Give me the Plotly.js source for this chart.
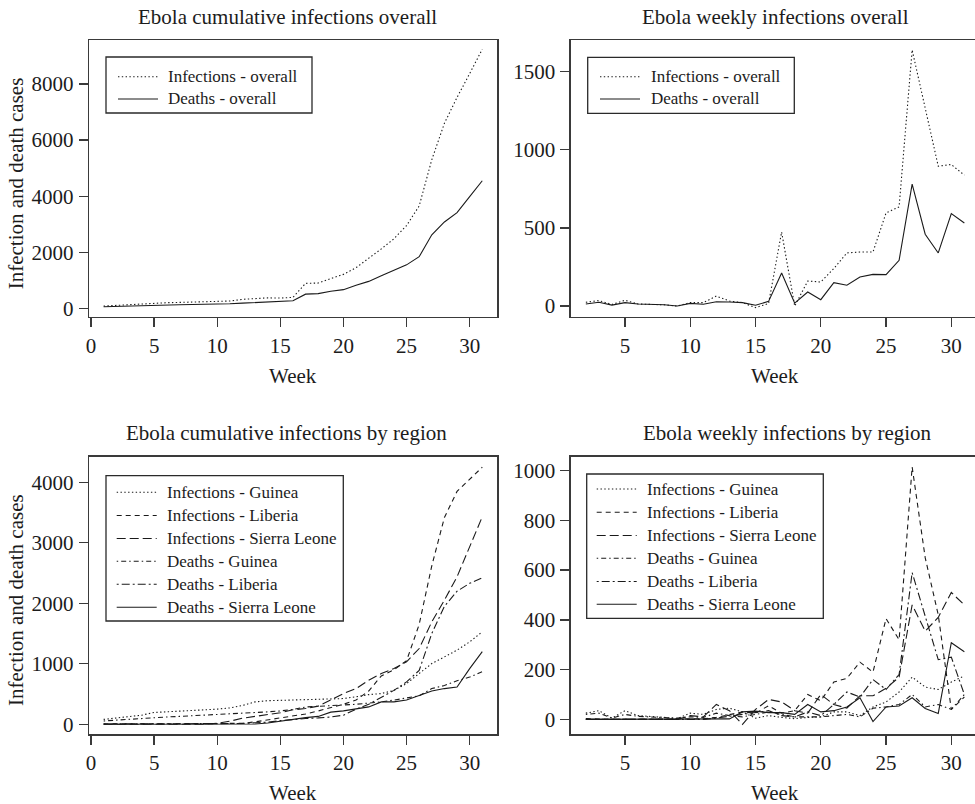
<!DOCTYPE html>
<html>
<head>
<meta charset="utf-8">
<script src="https://cdn.plot.ly/plotly-3.0.1.min.js"></script>
<style>
html, body { margin: 0; padding: 0; overflow: hidden; background: #fff; }
#chart { width: 990px; height: 804px; }
</style>
</head>
<body>
<div id="chart"></div>
<script>
// ---------- data ----------
const weeksCum = [1,2,3,4,5,6,7,8,9,10,11,12,13,14,15,16,17,18,19,20,21,22,23,24,25,26,27,28,29,30,31];
const weeksWeekly = [2,3,4,5,6,7,8,9,10,11,12,13,14,15,16,17,18,19,20,21,22,23,24,25,26,27,28,29,30,31];

// cumulative overall
const infectionsOverallCum = [80,105,140,150,185,200,210,218,220,240,260,320,350,372,365,390,890,900,1060,1210,1450,1780,2120,2480,2950,3650,5300,6600,7520,8370,9240];
const deathsOverallCum = [55,70,90,95,110,120,128,135,136,150,160,185,210,230,235,268,505,525,610,665,820,960,1160,1360,1550,1840,2620,3080,3410,3980,4550];

// weekly overall
const infectionsOverallWeekly = [24,35,10,37,13,10,8,0,22,22,64,32,22,-10,16,474,0,160,154,240,340,346,346,596,635,1639,1260,895,906,838];
const deathsOverallWeekly = [13,24,6,22,13,10,8,0,17,12,28,26,22,5,30,212,19,90,41,150,133,186,203,201,293,780,460,340,592,532];

// cumulative by region
const infGuineaCum = [80,100,130,150,195,205,215,225,232,250,270,310,370,390,395,400,405,408,412,425,455,490,508,560,673,839,1004,1114,1225,1362,1528];
const infLiberiaCum = [8,10,10,10,10,10,10,10,10,10,12,16,40,70,100,130,170,220,270,330,400,550,800,900,1050,1650,2620,3420,3850,4050,4250];
const infSierraLeoneCum = [0,0,0,0,0,0,0,0,0,16,50,100,130,160,190,240,260,300,400,508,590,728,839,921,1032,1252,1693,2052,2438,2935,3431];
const deathsGuineaCum = [55,70,85,95,110,120,130,140,145,155,165,180,190,205,220,245,285,300,310,320,330,345,370,400,430,470,590,640,720,780,870];
const deathsLiberiaCum = [5,6,6,6,6,6,6,6,6,6,6,12,25,35,60,80,95,105,120,150,250,330,450,560,700,890,1500,1950,2200,2330,2420];
const deathsSierraLeoneCum = [0,0,0,0,0,0,0,0,0,0,0,2,5,20,50,85,110,130,200,221,250,287,370,370,400,480,550,590,615,920,1200];

// weekly by region
const infGuineaWeekly = [25,35,5,35,15,10,8,3,25,20,40,45,30,5,15,8,3,8,10,30,30,15,50,70,110,170,130,120,150,175];
const infLiberiaWeekly = [3,0,0,0,0,0,0,0,0,2,8,20,30,25,55,25,35,100,75,150,165,230,190,405,320,1015,650,420,40,90];
const infSierraLeoneWeekly = [0,0,0,0,0,0,0,0,15,10,60,35,-20,40,80,70,35,25,100,60,45,95,95,125,170,460,355,410,510,460];
const deathsGuineaWeekly = [20,25,5,20,12,10,8,5,10,8,25,15,10,20,30,20,10,10,10,15,20,10,45,50,60,100,50,60,40,100];
const deathsLiberiaWeekly = [0,0,0,0,0,0,0,0,0,0,5,12,20,25,35,15,10,30,15,60,110,90,160,120,180,590,420,240,250,100];
const deathsSierraLeoneWeekly = [0,0,0,0,0,0,0,0,0,0,0,2,30,33,27,27,20,60,30,35,50,87,-9,50,54,87,44,24,308,272];

const overallNames = ["Infections - overall", "Deaths - overall"];
const regionNames = ["Infections - Guinea", "Infections - Liberia", "Infections - Sierra Leone",
                     "Deaths - Guinea", "Deaths - Liberia", "Deaths - Sierra Leone"];
const panelTitles = ["Ebola cumulative infections overall", "Ebola weekly infections overall",
                     "Ebola cumulative infections by region", "Ebola weekly infections by region"];
const xTitle = "Week";
const yTitle = "Infection and death cases";

// ---------- styling ----------
const W = 990, H = 804;
const px = x => x / W;
const py = y => 1 - y / H;
const FONT = "Liberation Serif, Times New Roman, serif";
const INK = "#1c1c1c";
const LINE = "#1a1a1a";
const dashes = {
  solid: "solid",
  dotted: "1.4px,2.4px",
  dashed: "5px,4px",
  longdash: "9px,4px",
  dotdash: "1.5px,3px,5px,3px",
  twodash: "2px,3px,8px,3px"
};
const overallDash = [dashes.dotted, dashes.solid];
const regionDash = [dashes.dotted, dashes.dashed, dashes.longdash, dashes.dotdash, dashes.twodash, dashes.solid];

function tr(x, y, name, dash, xa, ya) {
  return { type: "scatter", mode: "lines", x: x, y: y, name: name,
           xaxis: xa, yaxis: ya, showlegend: false,
           line: { color: LINE, width: 1.1, dash: dash }, hoverinfo: "skip" };
}

const data = [
  tr(weeksCum, infectionsOverallCum, overallNames[0], overallDash[0], "x", "y"),
  tr(weeksCum, deathsOverallCum, overallNames[1], overallDash[1], "x", "y"),
  tr(weeksWeekly, infectionsOverallWeekly, overallNames[0], overallDash[0], "x2", "y2"),
  tr(weeksWeekly, deathsOverallWeekly, overallNames[1], overallDash[1], "x2", "y2")
];
const regCum = [infGuineaCum, infLiberiaCum, infSierraLeoneCum, deathsGuineaCum, deathsLiberiaCum, deathsSierraLeoneCum];
const regWk = [infGuineaWeekly, infLiberiaWeekly, infSierraLeoneWeekly, deathsGuineaWeekly, deathsLiberiaWeekly, deathsSierraLeoneWeekly];
regCum.forEach((s, i) => data.push(tr(weeksCum, s, regionNames[i], regionDash[i], "x3", "y3")));
regWk.forEach((s, i) => data.push(tr(weeksWeekly, s, regionNames[i], regionDash[i], "x4", "y4")));

const tickFont = { family: FONT, size: 21, color: INK };
function xax(domain, range, tickvals, anchor) {
  return { domain: domain, range: range, tickmode: "array", tickvals: tickvals,
           showgrid: false, zeroline: false, showline: true, mirror: true,
           linecolor: "#3a3a3a", linewidth: 1.3, ticks: "outside", ticklen: 9,
           tickwidth: 1.3, tickcolor: "#3a3a3a", tickfont: tickFont, anchor: anchor,
           ticklabelstandoff: 0, fixedrange: true };
}
function yax(domain, range, tickvals, anchor) {
  return { domain: domain, range: range, tickmode: "array", tickvals: tickvals,
           showgrid: false, zeroline: false, showline: true, mirror: true,
           linecolor: "#3a3a3a", linewidth: 1.3, ticks: "outside", ticklen: 9,
           tickwidth: 1.3, tickcolor: "#3a3a3a", tickfont: tickFont, anchor: anchor,
           ticklabelstandoff: 1, fixedrange: true };
}
const leftDom = [px(89), px(497.3)];
const rightDom = [px(570.7), px(979.5)];
const topDom = [py(317), py(40)];
const botDom = [py(734.3), py(456.7)];

function ann(text, x, y, size, angle, xanchor) {
  return { text: text, x: px(x), y: py(y), xref: "paper", yref: "paper",
           xanchor: xanchor || "center", yanchor: "middle", showarrow: false,
           textangle: angle || 0, font: { family: FONT, size: size, color: INK } };
}

const annotations = [
  ann(panelTitles[0], 287.7, 17, 21),
  ann(panelTitles[1], 775.3, 17, 21),
  ann(panelTitles[2], 286.7, 433, 21),
  ann(panelTitles[3], 787, 433, 21),
  ann(xTitle, 293.3, 376, 21),
  ann(xTitle, 775, 376, 21),
  ann(xTitle, 293.3, 793, 21),
  ann(xTitle, 775, 793, 21),
  ann(yTitle, 16, 183.3, 21, -90),
  ann(yTitle, 16, 600, 21, -90)
];
const shapes = [];

// legend boxes drawn in paper space
function addLegend(box, lineX0, textX, rows, names, dashList) {
  shapes.push({ type: "rect", xref: "paper", yref: "paper",
                x0: px(box[0]), x1: px(box[1]), y0: py(box[2]), y1: py(box[3]),
                line: { color: "#2a2a2a", width: 1.3 }, fillcolor: "rgba(0,0,0,0)" });
  names.forEach((n, i) => {
    shapes.push({ type: "line", xref: "paper", yref: "paper",
                  x0: px(lineX0), x1: px(lineX0 + 40), y0: py(rows[i]), y1: py(rows[i]),
                  line: { color: LINE, width: 1.1, dash: dashList[i] } });
    annotations.push(ann(n, textX, rows[i], 17, 0, "left"));
  });
}
addLegend([106, 312, 57, 113], 118, 166, [76.7, 99], overallNames, overallDash);
addLegend([587.7, 794.3, 57.3, 113.3], 600, 648.5, [76.7, 99], overallNames, overallDash);
addLegend([106, 343.3, 475.7, 621], 116.7, 164.5,
          [492.3, 515.5, 538.5, 561.3, 584.3, 607.3], regionNames, regionDash);
addLegend([586.7, 823.3, 474, 618.3], 596.7, 644.5,
          [489, 512.3, 535.5, 558.3, 581.5, 604.3], regionNames, regionDash);

const layout = {
  width: W, height: H,
  margin: { l: 0, r: 0, t: 0, b: 0 },
  paper_bgcolor: "#fff", plot_bgcolor: "#fff",
  showlegend: false,
  xaxis: xax(leftDom, [-0.16, 32.19], [0,5,10,15,20,25,30], "y"),
  yaxis: yax(topDom, [-310, 9569], [0,2000,4000,6000,8000], "x"),
  xaxis2: xax(rightDom, [0.84, 32.16], [5,10,15,20,25,30], "y2"),
  yaxis2: yax(topDom, [-70, 1703], [0,500,1000,1500], "x2"),
  xaxis3: xax(leftDom, [-0.16, 32.19], [0,5,10,15,20,25,30], "y3"),
  yaxis3: yax(botDom, [-166, 4424], [0,1000,2000,3000,4000], "x3"),
  xaxis4: xax(rightDom, [0.84, 32.16], [5,10,15,20,25,30], "y4"),
  yaxis4: yax(botDom, [-60, 1056], [0,200,400,600,800,1000], "x4"),
  annotations: annotations,
  shapes: shapes
};

Plotly.newPlot("chart", data, layout, { staticPlot: true, displayModeBar: false });
</script>
</body>
</html>
